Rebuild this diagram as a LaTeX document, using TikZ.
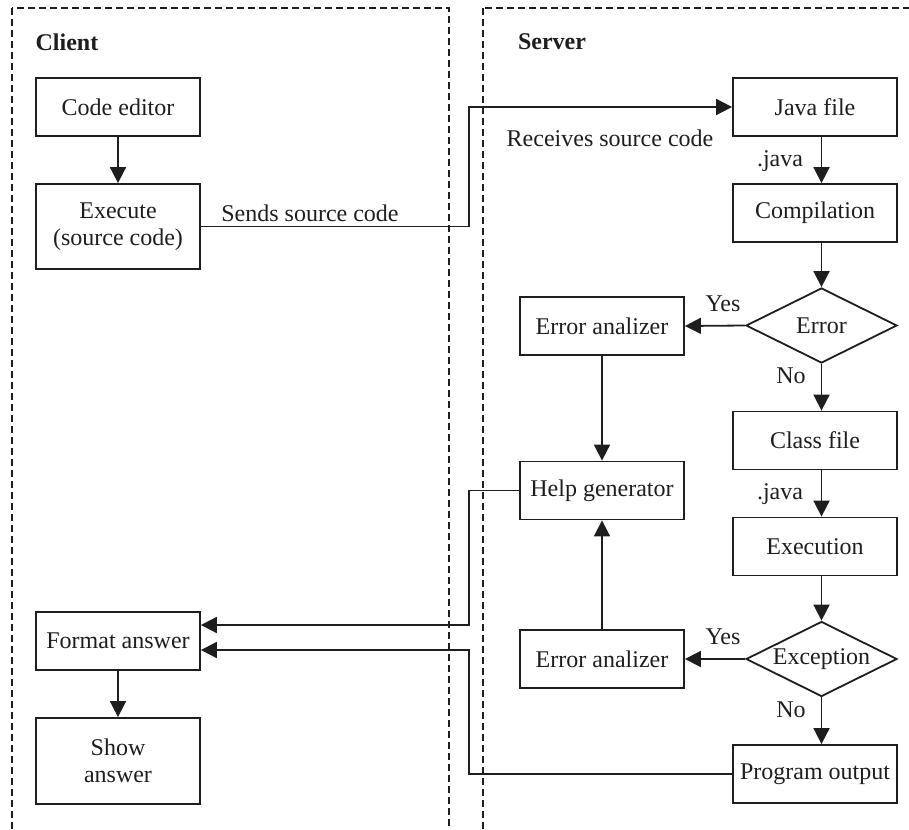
\documentclass[tikz,border=0pt]{standalone}
\usepackage{fontspec}
\setmainfont{Liberation Serif}
\usetikzlibrary{arrows.meta,shapes.geometric,calc}
\definecolor{ink}{RGB}{30,30,30}
\begin{document}
\begin{tikzpicture}[x=0.5pt,y=-0.5pt,
  every node/.style={font=\fontsize{12}{13.5}\selectfont, text=ink},
  box/.style={draw=ink, line width=0.9pt, minimum width=82pt, minimum height=29pt, inner sep=2pt, align=center},
  tall/.style={box, minimum height=42.5pt},
  decision/.style={draw=ink, diamond, aspect=2, line width=0.9pt, inner sep=0pt, minimum width=75.5pt, minimum height=37.5pt},
  arr/.style={draw=ink, line width=0.9pt, -{Triangle[length=8pt,width=8pt]}},
  lane/.style={draw=ink, line width=1pt, dash pattern=on 3.5pt off 2pt},
  lbl/.style={inner sep=0pt},
  title/.style={inner sep=0pt, font=\fontsize{12}{13.5}\selectfont\bfseries}
]
\useasboundingbox (0,0) rectangle (909,829);
\clip (0,0) rectangle (909,829);

% swim lanes
\draw[lane] (12,8) rectangle (449,831);
\draw[lane] (483,8) rectangle (935,831);
\node[title] (client) at (67,42) {Client};
\node[title] (server) at (552,42) {Server};

% client side
\node[box] (editor) at (118,107) {Code editor};
\node[tall] (exec) at (118,226.5) {Execute\\(source code)};
\node[box] (fmt) at (118,641) {Format answer};
\node[tall, minimum height=43pt] (show) at (118,761) {Show\\answer};

% server side
\node[box] (java) at (815,107) {Java file};
\node[box] (comp) at (815,213) {Compilation};
\node[decision] (err) at (821.5,325.5) {Error};
\node[box] (ea1) at (602,326) {Error analizer};
\node[box] (cls) at (815,440.5) {Class file};
\node[box] (help) at (602,490.5) {Help generator};
\node[box] (exe) at (815,546.5) {Execution};
\node[decision] (exc) at (821.5,659) {Exception};
\node[box] (ea2) at (602,659) {Error analizer};
\node[box] (prog) at (815,774) {Program output};

% column where the client/server links cross the lanes
\coordinate (xbus) at (469,0);

% labels
\node[lbl] (sends) at (310,213) {Sends source code};
\node[lbl] (recv) at (610,138) {Receives source code};
\node[lbl] (ext1) at (780,161) {.java};
\node[lbl] (ext2) at (780,494) {.java};
\node[lbl] (yes1) at (723,304) {Yes};
\node[lbl] (no1) at (791,376) {No};
\node[lbl] (yes2) at (723,637) {Yes};
\node[lbl] (no2) at (791,710) {No};

% connectors
\draw[arr] (editor) -- (exec);
\draw[arr] (exec.east) -- (exec.east -| xbus) |- (java.west);
\draw[arr] (java.south -| err) -- (comp.north -| err);
\draw[arr] (comp.south -| err) -- (err.north);
\draw[arr] (err.west) -- (ea1.east);
\draw[arr] (err.south) -- (cls.north -| err);
\draw[arr] (cls.south -| err) -- (exe.north -| err);
\draw[arr] (exe.south -| exc) -- (exc.north);
\draw[arr] (exc.west) -- (ea2.east);
\draw[arr] (exc.south) -- (prog.north -| exc);
\draw[arr] (ea1.south) -- (help.north);
\draw[arr] (ea2.north) -- (help.south);
\draw[arr] (help.west) -- (help.west -| xbus) |- ([yshift=8pt]fmt.east);
\draw[arr] (prog.west) -- (prog.west -| xbus) |- ([yshift=-4.5pt]fmt.east);
\draw[arr] (fmt) -- (show);
\end{tikzpicture}
\end{document}
